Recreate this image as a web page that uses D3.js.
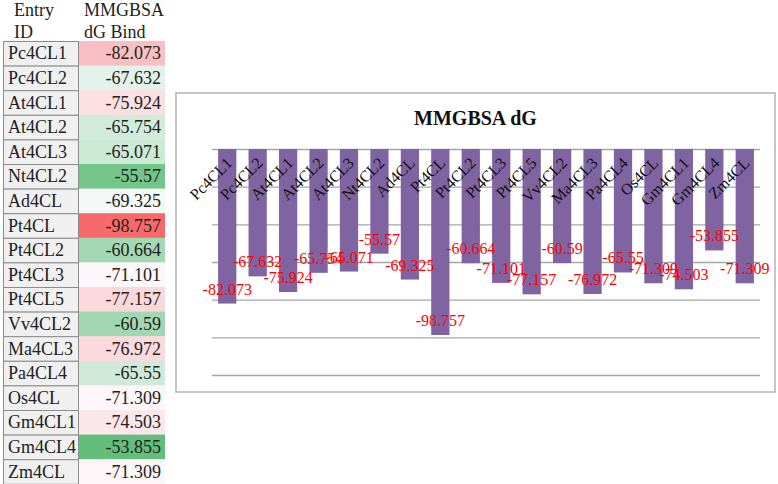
<!DOCTYPE html>
<html>
<head>
<meta charset="utf-8">
<script src="https://cdn.jsdelivr.net/npm/d3@7"></script>
<style>
  body { margin: 0; background: #fff; }
  svg { display: block; font-family: "Liberation Serif", "Times New Roman", serif; }
</style>
</head>
<body>
<div id="chart"></div>
<script>
const entryIds = ['Pc4CL1', 'Pc4CL2', 'At4CL1', 'At4CL2', 'At4CL3', 'Nt4CL2', 'Ad4CL', 'Pt4CL', 'Pt4CL2',
  'Pt4CL3', 'Pt4CL5', 'Vv4CL2', 'Ma4CL3', 'Pa4CL4', 'Os4CL', 'Gm4CL1', 'Gm4CL4', 'Zm4CL'];
const dgBind = [-82.073, -67.632, -75.924, -65.754, -65.071, -55.57, -69.325, -98.757, -60.664,
  -71.101, -77.157, -60.59, -76.972, -65.55, -71.309, -74.503, -53.855, -71.309];
const yTicks = [0, -20, -40, -60, -80, -100, -120];
const headers = [['Entry', 'ID'], ['MMGBSA', 'dG Bind']];
const chartTitle = 'MMGBSA dG';

const W = 778, H = 484;
const svg = d3.select('#chart').append('svg')
  .attr('width', W)
  .attr('height', H);

const rows = entryIds.map((id, i) => ({ id: id, v: dgBind[i] }));

// ---- table on the left ----
const tblTop = 41, rowH = 24.6;
const col1 = [3, 78], col2 = [78, 165];

// excel style 3 colour scale (red - white - green), midpoint = median
const med = d3.median(dgBind);
const heat = d3.scaleLinear()
  .domain([d3.min(dgBind), med, d3.max(dgBind)])
  .range(['#F8696B', '#FCFCFF', '#63BE7B']);

const rowY = d3.scaleBand()
  .domain(entryIds)
  .range([tblTop, tblTop + rowH * entryIds.length]);

const table = svg.append('g').attr('class', 'table');

headers.forEach((h, c) => {
  const x = c === 0 ? 14 : 84;
  h.forEach((line, k) => {
    table.append('text')
      .attr('x', x)
      .attr('y', 16 + k * 22)
      .style('font-size', '18px')
      .attr('fill', '#222')
      .text(line);
  });
});

table.selectAll('rect.val')
  .data(rows)
  .enter().append('rect')
  .attr('class', 'val')
  .attr('x', col2[0])
  .attr('y', d => rowY(d.id))
  .attr('width', col2[1] - col2[0])
  .attr('height', rowY.bandwidth() + 0.5)
  .attr('fill', d => heat(d.v));

table.selectAll('rect.id')
  .data(rows)
  .enter().append('rect')
  .attr('class', 'id')
  .attr('x', col1[0] + 0.5)
  .attr('y', d => rowY(d.id) + 0.5)
  .attr('width', col1[1] - col1[0])
  .attr('height', rowY.bandwidth())
  .attr('fill', '#f0f0f0')
  .attr('stroke', '#8c8c8c')
  .attr('stroke-width', 1);

table.selectAll('text.id')
  .data(rows)
  .enter().append('text')
  .attr('class', 'id')
  .attr('x', 8)
  .attr('y', d => rowY(d.id) + rowY.bandwidth() / 2 + 6)
  .style('font-size', '18px')
  .attr('fill', '#222')
  .text(d => d.id);

table.selectAll('text.val')
  .data(rows)
  .enter().append('text')
  .attr('class', 'val')
  .attr('x', 161)
  .attr('y', d => rowY(d.id) + rowY.bandwidth() / 2 + 6)
  .attr('text-anchor', 'end')
  .style('font-size', '18px')
  .attr('fill', '#222')
  .text(d => d.v);

// ---- bar chart on the right ----
const box = { x: 176, y: 93, w: 599, h: 299 };
svg.append('rect')
  .attr('x', box.x)
  .attr('y', box.y)
  .attr('width', box.w)
  .attr('height', box.h)
  .attr('fill', '#fff')
  .attr('stroke', '#b4b4b4')
  .attr('stroke-width', 1.5);

svg.append('text')
  .attr('x', box.x + box.w / 2)
  .attr('y', 125)
  .attr('text-anchor', 'middle')
  .style('font-size', '20px')
  .style('font-weight', 'bold')
  .attr('fill', '#111')
  .text(chartTitle);

const x = d3.scaleBand()
  .domain(entryIds)
  .range([212, 760])
  .paddingInner(0.4)
  .paddingOuter(0.2);

const y = d3.scaleLinear()
  .domain([0, -120])
  .range([149, 375]);

// gridlines
const grid = svg.append('g')
  .attr('transform', `translate(${x.range()[0]},0)`)
  .call(d3.axisLeft(y).tickValues(yTicks).tickSize(-(x.range()[1] - x.range()[0])).tickFormat(''));
grid.select('.domain').remove();
grid.selectAll('line').attr('stroke', '#a6a6a6').attr('stroke-width', 1.3);

// bars
svg.selectAll('rect.bar')
  .data(rows)
  .enter().append('rect')
  .attr('class', 'bar')
  .attr('x', d => x(d.id))
  .attr('y', y(0))
  .attr('width', x.bandwidth())
  .attr('height', d => y(d.v) - y(0))
  .attr('fill', '#8064A2');

// category labels, rotated
const xAxis = svg.append('g')
  .attr('transform', `translate(0,${y(0)})`)
  .call(d3.axisBottom(x).tickSize(0));
xAxis.select('.domain').remove();
xAxis.selectAll('text')
  .attr('y', 0)
  .attr('dy', 0)
  .attr('transform', 'translate(6,15) rotate(-45)')
  .attr('text-anchor', 'end')
  .style('font-family', '"Liberation Serif", "Times New Roman", serif')
  .style('font-size', '16px')
  .attr('fill', '#111');

// value labels
svg.selectAll('text.lbl')
  .data(rows)
  .enter().append('text')
  .attr('class', 'lbl')
  .attr('x', d => x(d.id) + x.bandwidth() / 2)
  .attr('y', d => y(d.v) - 9)
  .attr('text-anchor', 'middle')
  .style('font-size', '16px')
  .attr('fill', '#FF0000')
  .text(d => d.v);
</script>
</body>
</html>
